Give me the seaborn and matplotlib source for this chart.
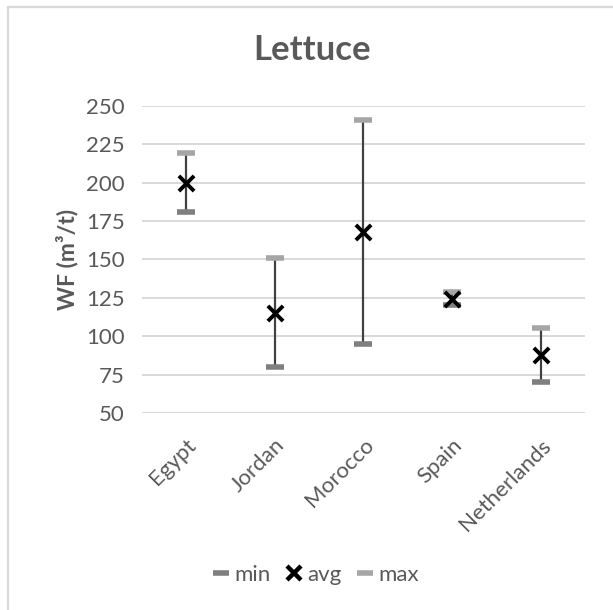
import matplotlib
matplotlib.use("Agg")
import matplotlib.pyplot as plt
from matplotlib.lines import Line2D
import seaborn as sns
import pandas as pd

countries = ["Egypt", "Jordan", "Morocco", "Spain", "Netherlands"]
wf_min = [181, 80, 95, 120, 70]
wf_avg = [200, 115, 168, 124, 88]
wf_max = [219, 151, 241, 129, 105]
yticks = [50, 75, 100, 125, 150, 175, 200, 225, 250]

sns.set_theme(style="white")
plt.rcParams["font.family"] = ["Lato", "DejaVu Sans"]

df = pd.DataFrame({"country": countries, "min": wf_min, "avg": wf_avg, "max": wf_max})

W, H, DPI = 613, 610, 100
fig = plt.figure(figsize=(W / DPI, H / DPI), dpi=DPI)
ax = fig.add_axes([141.7 / W, 1 - 413 / H, (585 - 141.7) / W, (413 - 105.7) / H])

txt = "#595959"
c_min = "#7f7f7f"
c_max = "#a6a6a6"

# range lines
xpos = list(range(len(countries)))
ax.vlines(xpos, df["min"], df["max"], color="#404040", linewidth=1.6, zorder=2)

sns.scatterplot(data=df, x="country", y="min", marker="_", s=170, color=c_min,
                linewidth=4, ax=ax, zorder=3, legend=False)
sns.scatterplot(data=df, x="country", y="max", marker="_", s=170, color=c_max,
                linewidth=4, ax=ax, zorder=3, legend=False)
sns.scatterplot(data=df, x="country", y="avg", marker="x", s=120, color="black",
                linewidth=2.8, ax=ax, zorder=4, legend=False)

ax.set_xlim(-0.5, len(countries) - 0.5)
ax.set_ylim(50, 250)
ax.set_yticks(yticks)
ax.yaxis.grid(True, color="#d9d9d9", linewidth=1.4)
ax.set_axisbelow(True)
for sp in ax.spines.values():
    sp.set_visible(False)
ax.tick_params(axis="both", length=0, labelsize=16, colors=txt)
ax.tick_params(axis="y", pad=12)
ax.set_xticks(xpos)
ax.set_xticklabels(countries, rotation=45, ha="right", rotation_mode="anchor")
ax.tick_params(axis="x", pad=16)
ax.set_xlabel("")
ax.set_ylabel("WF (m³/t)", fontsize=16.5, fontweight="bold", color=txt, labelpad=6)

fig.text(312 / W, 1 - 50 / H, "Lettuce", ha="center", va="center",
         fontsize=25, fontweight="bold", color=txt)

handles = [
    Line2D([], [], marker="_", linestyle="none", markersize=11, markeredgewidth=4, color=c_min),
    Line2D([], [], marker="x", linestyle="none", markersize=10, markeredgewidth=3.2, color="black"),
    Line2D([], [], marker="_", linestyle="none", markersize=11, markeredgewidth=4, color=c_max),
]
leg = fig.legend(handles, ["min", "avg", "max"], loc="center", ncol=3,
                 bbox_to_anchor=(316 / W, 1 - 575 / H), frameon=False,
                 fontsize=16, handlelength=0.7, handletextpad=0.25, columnspacing=0.7)
for t in leg.get_texts():
    t.set_color(txt)

# chart-area border (left and top only)
fig.add_artist(Line2D([8 / W, 8 / W], [0, 1 - 7 / H], color="#d9d9d9", linewidth=1.6))
fig.add_artist(Line2D([8 / W, 1], [1 - 7 / H, 1 - 7 / H], color="#d9d9d9", linewidth=1.6))

fig.savefig("out.png", dpi=DPI)
